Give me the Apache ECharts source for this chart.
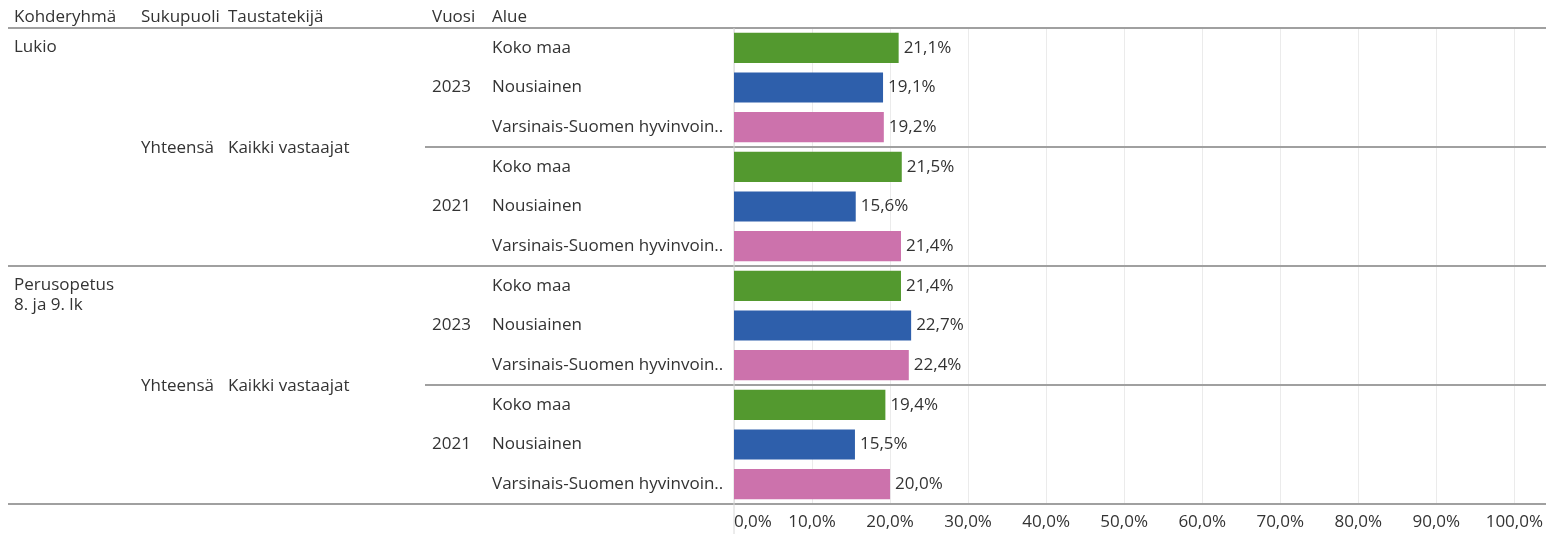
<!DOCTYPE html>
<html>
<head>
<meta charset="utf-8">
<script src="https://cdn.jsdelivr.net/npm/echarts@6/dist/echarts.min.js"></script>
<style>
  html, body { margin: 0; padding: 0; background: #ffffff; }
  #chart { width: 1546px; height: 534px; }
</style>
</head>
<body>
<div id="chart"></div>
<script>
// Table header and row dimensions
const headers = ['Kohderyhmä', 'Sukupuoli', 'Taustatekijä', 'Vuosi', 'Alue'];
const targetGroups = ['Lukio', 'Perusopetus\n8. ja 9. lk'];
const genders = ['Yhteensä', 'Yhteensä'];
const backgroundFactors = ['Kaikki vastaajat', 'Kaikki vastaajat'];
const years = ['2023', '2021'];
const regions = ['Koko maa', 'Nousiainen', 'Varsinais-Suomen hyvinvoin..'];
const regionColors = ['#53992f', '#2e5fab', '#cc72ac'];

// Shares (%) per region, in the order of `regions`
const lukio2023 = [21.1, 19.1, 19.2];
const lukio2021 = [21.5, 15.6, 21.4];
const perusopetus2023 = [21.4, 22.7, 22.4];
const perusopetus2021 = [19.4, 15.5, 20.0];

const xTicks = [0, 10, 20, 30, 40, 50, 60, 70, 80, 90, 100];

const blocks = [[lukio2023, lukio2021], [perusopetus2023, perusopetus2021]];

const FONT = '"Open Sans", "Noto Sans", sans-serif';
const TEXT = '#333333';
const FS = 17;

const fmt = v => v.toFixed(1).replace('.', ',') + '%';

// Flatten into one row per bar
const rowIds = [];
const rowLabels = [];
const barData = [];
blocks.forEach((blk, g) => {
  blk.forEach((vals, y) => {
    vals.forEach((v, r) => {
      rowIds.push(g + '-' + y + '-' + r);
      rowLabels.push(regions[r]);
      barData.push({ value: v, itemStyle: { color: regionColors[r] } });
    });
  });
});

const chart = echarts.init(document.getElementById('chart'), null, { renderer: 'canvas' });

chart.setOption({
  animation: false,
  backgroundColor: '#ffffff',
  textStyle: { fontFamily: FONT },
  grid: { left: 734, right: 28, top: 28, bottom: 30, containLabel: false },
  xAxis: {
    type: 'value',
    min: xTicks[0],
    max: xTicks[xTicks.length - 1],
    interval: 10,
    axisLine: { show: false },
    axisTick: { show: false },
    splitLine: { show: true, lineStyle: { color: '#ebebeb', width: 1 } },
    axisLabel: {
      margin: 10,
      color: TEXT,
      fontSize: FS,
      fontFamily: FONT,
      alignMinLabel: 'left',
      formatter: v => fmt(v)
    }
  },
  yAxis: {
    type: 'category',
    data: rowIds,
    inverse: true,
    axisLine: { show: false },
    axisTick: { show: false },
    splitLine: { show: false },
    axisLabel: {
      align: 'left',
      margin: 242,
      color: TEXT,
      fontSize: FS,
      fontFamily: FONT,
      formatter: (val, idx) => rowLabels[idx]
    }
  },
  series: [{
    type: 'bar',
    data: barData,
    barCategoryGap: '24%',
    label: {
      show: true,
      position: 'right',
      distance: 5,
      color: TEXT,
      fontSize: FS,
      fontFamily: FONT,
      formatter: p => fmt(p.value)
    }
  }]
});

// Table columns, lines and headers placed along the category scale
const rowY = i => chart.convertToPixel({ yAxisIndex: 0 }, rowIds[i]);
const step = rowY(1) - rowY(0);
const topEdge = i => rowY(i) - step / 2;
const bottomEdge = i => rowY(i) + step / 2;
const plotLeft = chart.convertToPixel({ xAxisIndex: 0 }, 0);
const W = 1546;

const graphics = [];
const text = (x, y, s, extra) => graphics.push({
  type: 'text', x, y, silent: true,
  style: Object.assign({ text: s, fill: TEXT, font: FS + 'px ' + FONT, textVerticalAlign: 'middle' }, extra || {})
});
const hline = (x1, y, x2, color, w) => graphics.push({
  type: 'line', silent: true,
  shape: { x1, y1: y, x2, y2: y },
  style: { stroke: color, lineWidth: w }
});

// headers
const headerX = [14, 141, 228, 432, 492];
const headerY = topEdge(0) - 11;
headers.forEach((h, i) => text(headerX[i], headerY, h));

const perBlock = years.length * regions.length;
targetGroups.forEach((g, gi) => {
  const first = gi * perBlock;
  const last = first + perBlock - 1;
  // target group, top-aligned to its first row
  text(14, rowY(first) - 11, g, { textVerticalAlign: 'top', lineHeight: 20 });
  // gender and background factor, centred on the block
  const mid = (topEdge(first) + bottomEdge(last)) / 2 + 1;
  text(141, mid, genders[gi]);
  text(228, mid, backgroundFactors[gi]);
  // years, centred on their three rows
  years.forEach((yr, yi) => {
    const r = first + yi * regions.length + 1;
    text(432, rowY(r), yr);
  });
});

// separators: header rule, year rules (from the year column), group rules (full width)
hline(8, topEdge(0), W, '#a0a0a0', 2);
for (let idx = regions.length - 1; idx < rowIds.length; idx += regions.length) {
  const full = (idx + 1) % perBlock === 0;
  hline(full ? 8 : 425, bottomEdge(idx), W, '#a0a0a0', 2);
}
// zero line running into the axis area
graphics.push({
  type: 'line', silent: true,
  shape: { x1: plotLeft, y1: topEdge(0), x2: plotLeft, y2: 534 },
  style: { stroke: '#d8d8d8', lineWidth: 1 }
});

chart.setOption({ graphic: graphics });
</script>
</body>
</html>
